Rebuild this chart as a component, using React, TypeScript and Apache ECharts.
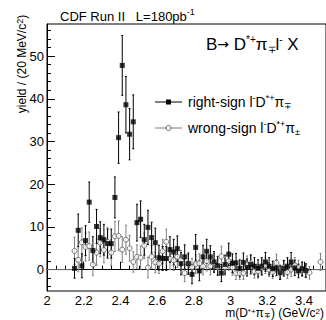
import React, { useEffect, useRef } from "react";
import * as echarts from "echarts";

const massBins = [
  2.15, 2.17, 2.19, 2.21, 2.23, 2.25, 2.27, 2.29, 2.31, 2.33,
  2.35, 2.37, 2.39, 2.41, 2.43, 2.45, 2.47, 2.49, 2.51, 2.53,
  2.55, 2.57, 2.59, 2.61, 2.63, 2.65, 2.67, 2.69, 2.71, 2.73,
  2.75, 2.77, 2.79, 2.81, 2.83, 2.85, 2.87, 2.89, 2.91, 2.93,
  2.95, 2.97, 2.99, 3.01, 3.03, 3.05, 3.07, 3.09, 3.11, 3.13,
  3.15, 3.17, 3.19, 3.21, 3.23, 3.25, 3.27, 3.29, 3.31, 3.33,
  3.35, 3.37, 3.39, 3.41, 3.43, 3.45, 3.47, 3.49,
];

const rightSign: (number | null)[] = [
  0.3, 9.2, 0.9, 6.8, 15.8, 4.5, 10.1, 7.5, 7.0, 6.1,
  6.1, 16.9, 30.9, 47.8, 38.6, 31.7, 34.6, 11.0, 11.8, 7.0,
  9.9, 7.5, 6.3, 2.8, 2.6, 2.6, 4.7, 4.1, 4.9, 1.4,
  3.0, 1.4, -1.1, 5.2, -0.3, 3.0, 4.3, 3.0, 1.8, 0.9,
  -0.8, 1.2, 3.6, 1.5, 1.6, 0.3, 1.7, 0.5, 1.2, 0.8,
  0.3, 0.8, 1.8, 0.8, 0.2, 0.4, -0.7, 0.3, 0.8, 1.8,
  0.4, -0.3, 0.2, -0.2, null, null, null, null,
];
const rightSignErr = [
  2.3, 3.8, 2.8, 3.5, 4.7, 3.2, 4.0, 3.7, 3.6, 3.4,
  3.4, 4.8, 6.0, 7.0, 6.6, 6.0, 6.3, 4.3, 4.3, 3.6,
  4.0, 3.6, 3.4, 2.9, 2.8, 2.8, 3.0, 3.0, 3.0, 2.6,
  2.8, 2.5, 2.2, 3.0, 2.3, 2.7, 2.8, 2.6, 2.4, 2.2,
  2.0, 2.2, 2.6, 2.2, 2.2, 2.0, 2.2, 2.0, 2.2, 2.0,
  2.0, 2.0, 2.2, 2.0, 1.8, 1.8, 1.6, 1.8, 2.0, 2.2,
  1.8, 1.6, 1.6, 1.6, 0, 0, 0, 0,
];

const wrongSign: (number | null)[] = [
  4.4, 2.3, 6.4, 5.3, 5.5, 1.2, 4.0, 6.3, 4.6, 6.5,
  4.0, 7.8, 7.9, 4.7, 7.0, 5.0, 1.8, 3.0, 2.8, 5.6,
  0.5, 3.0, 1.7, 1.4, 4.3, 6.5, 2.5, 2.2, 3.0, 2.2,
  -0.8, 1.4, 0.6, 1.3, 1.5, 0.8, 2.0, 0.8, 1.5, 0.6,
  3.1, 0.6, 2.0, 0.5, -0.8, -0.8, -0.8, 1.2, 1.5, -0.4,
  -0.4, 0.5, 1.0, 0.0, -0.5, 1.6, -0.5, 0.5, -0.6, 0.0,
  1.0, 0.5, 0.0, -0.3, -0.7, null, null, 1.8,
];
const wrongSignErr = [
  3.2, 2.8, 3.4, 3.3, 3.3, 2.6, 3.0, 3.3, 3.0, 3.3,
  3.0, 3.5, 3.5, 3.0, 3.4, 3.0, 2.4, 2.8, 2.7, 3.0,
  2.4, 2.7, 2.4, 2.3, 2.8, 3.0, 2.5, 2.4, 2.5, 2.3,
  2.0, 2.2, 2.0, 2.2, 2.2, 2.0, 2.3, 2.0, 2.2, 1.9,
  2.4, 1.9, 2.2, 1.8, 1.5, 1.5, 1.5, 2.0, 2.0, 1.6,
  1.6, 1.8, 1.9, 1.6, 1.6, 2.0, 1.6, 1.7, 1.5, 1.6,
  1.8, 1.7, 1.6, 1.5, 1.5, 0, 0, 2.0,
];

const xTickLabels = [2, 2.2, 2.4, 2.6, 2.8, 3, 3.2, 3.4];
const yTickLabels = [0, 10, 20, 30, 40, 50];
const baselineLeft = [2.0, 2.145];
const baselineRight = [3.44, 3.52];

const X_MIN = 2;
const X_MAX = 3.52;
const Y_MIN = -5;
const Y_MAX = 57.5;

const FONT = "Liberation Sans, Arial, Helvetica, sans-serif";

function minorTicks(min: number, max: number, step: number, majors: number[]) {
  const out: number[] = [];
  const n = Math.round((max - min) / step);
  for (let i = 0; i <= n; i++) {
    const v = Math.round((min + i * step) * 1000) / 1000;
    if (!majors.some((m) => Math.abs(m - v) < 1e-6)) out.push(v);
  }
  return out;
}

function errorSeries(vals: (number | null)[], errs: number[], color: string, z: number) {
  const data: number[][] = [];
  massBins.forEach((x, i) => {
    const v = vals[i];
    if (v != null && errs[i] > 0) data.push([x, v - errs[i], v + errs[i]]);
  });
  return {
    type: "custom",
    silent: true,
    z,
    data,
    encode: { x: 0, y: [1, 2] },
    renderItem: (_params: any, api: any) => {
      const x = api.value(0);
      const lo = api.coord([x, api.value(1)]);
      const hi = api.coord([x, api.value(2)]);
      const st = { stroke: color, lineWidth: 1 };
      return {
        type: "group",
        children: [
          { type: "line", shape: { x1: lo[0], y1: lo[1], x2: hi[0], y2: hi[1] }, style: st },
          { type: "line", shape: { x1: lo[0] - 1, y1: lo[1], x2: lo[0] + 1, y2: lo[1] }, style: st },
          { type: "line", shape: { x1: hi[0] - 1, y1: hi[1], x2: hi[0] + 1, y2: hi[1] }, style: st },
        ],
      };
    },
  };
}

function points(vals: (number | null)[]) {
  const out: number[][] = [];
  massBins.forEach((x, i) => {
    const v = vals[i];
    if (v != null) out.push([x, v]);
  });
  return out;
}

export default function App() {
  const ref = useRef<HTMLDivElement>(null);
  useEffect(() => {
    if (!ref.current) return;
    const chart = echarts.init(ref.current, undefined, { renderer: "svg" });
    const xMinor = minorTicks(X_MIN, 3.5, 0.05, xTickLabels);
    const yMinor = minorTicks(-4, 56, 2, yTickLabels);

    const sup = { fontSize: 9, verticalAlign: "top", lineHeight: 9, fontFamily: FONT, fill: "#000" };
    const sub = { fontSize: 9, verticalAlign: "bottom", lineHeight: 9, fontFamily: FONT, fill: "#000" };

    const option: any = {
      animation: false,
      backgroundColor: "#fff",
      grid: {
        left: 47,
        top: 24,
        right: -3,
        bottom: 29,
        show: true,
        borderColor: "#000",
        borderWidth: 1,
        backgroundColor: "transparent",
      },
      xAxis: [
        {
          type: "value",
          min: X_MIN,
          max: X_MAX,
          position: "bottom",
          axisLine: { show: true, lineStyle: { color: "#000", width: 1 } },
          splitLine: { show: false },
          axisTick: {
            show: true,
            inside: true,
            length: 8,
            customValues: xTickLabels,
            lineStyle: { color: "#000" },
          },
          axisLabel: {
            customValues: xTickLabels,
            margin: 3,
            color: "#000",
            fontSize: 13,
            lineHeight: 12,
            fontFamily: FONT,
            formatter: (v: number) => String(Math.round(v * 10) / 10),
          },
        },
        {
          type: "value",
          min: X_MIN,
          max: X_MAX,
          position: "bottom",
          axisLine: { show: false },
          splitLine: { show: false },
          axisLabel: { show: false },
          axisTick: {
            show: true,
            inside: true,
            length: 4,
            customValues: xMinor,
            lineStyle: { color: "#000" },
          },
        },
      ],
      yAxis: [
        {
          type: "value",
          min: Y_MIN,
          max: Y_MAX,
          position: "left",
          axisLine: { show: true, lineStyle: { color: "#000", width: 1 } },
          splitLine: { show: false },
          axisTick: {
            show: true,
            inside: true,
            length: 8,
            customValues: yTickLabels,
            lineStyle: { color: "#000" },
          },
          axisLabel: {
            customValues: yTickLabels,
            margin: 3,
            color: "#000",
            fontSize: 13,
            fontFamily: FONT,
          },
        },
        {
          type: "value",
          min: Y_MIN,
          max: Y_MAX,
          position: "left",
          offset: 0,
          axisLine: { show: false },
          splitLine: { show: false },
          axisLabel: { show: false },
          axisTick: {
            show: true,
            inside: true,
            length: 4,
            customValues: yMinor,
            lineStyle: { color: "#000" },
          },
        },
      ],
      series: [
        {
          type: "line",
          data: baselineLeft.map((x) => [x, 0]),
          symbol: "none",
          lineStyle: { color: "#777", width: 1 },
          silent: true,
          z: 1,
        },
        {
          type: "line",
          data: baselineRight.map((x) => [x, 0]),
          symbol: "none",
          lineStyle: { color: "#777", width: 1 },
          silent: true,
          z: 1,
        },
        errorSeries(wrongSign, wrongSignErr, "#808080", 2),
        errorSeries(rightSign, rightSignErr, "#000", 3),
        {
          type: "scatter",
          name: "wrong-sign",
          data: points(wrongSign),
          symbol: "circle",
          symbolSize: 5,
          itemStyle: { color: "#fff", borderColor: "#555", borderWidth: 1 },
          silent: true,
          z: 4,
        },
        {
          type: "scatter",
          name: "right-sign",
          data: points(rightSign),
          symbol: "rect",
          symbolSize: 5,
          itemStyle: { color: "#000" },
          silent: true,
          z: 5,
        },
      ],
      graphic: [
        {
          type: "text",
          x: 60,
          y: 15,
          style: {
            text: "{n|CDF Run II   L=180pb}{s|-1}",
            textVerticalAlign: "middle",
            rich: {
              n: { fontSize: 13, fontFamily: FONT, fill: "#000", lineHeight: 15, verticalAlign: "bottom" },
              s: { ...sup },
            },
          },
        },
        {
          type: "text",
          x: 206,
          y: 44,
          style: {
            text: "{n|B}{a|→}{n| D}{s|*+}{n|π}{b|∓}{n|l}{s|-}{n| X}",
            textVerticalAlign: "middle",
            rich: {
              n: { fontSize: 17, fontFamily: FONT, fill: "#000", lineHeight: 20 },
              a: { fontSize: 14, fontFamily: "DejaVu Sans, sans-serif", fill: "#000", lineHeight: 20 },
              s: { fontSize: 10, verticalAlign: "top", lineHeight: 10, fontFamily: FONT, fill: "#000" },
              b: { fontSize: 10, verticalAlign: "bottom", lineHeight: 10, fontFamily: FONT, fill: "#000" },
            },
          },
        },
        // legend
        { type: "line", shape: { x1: 155, y1: 102, x2: 182, y2: 102 }, style: { stroke: "#000", lineWidth: 1 } },
        { type: "rect", shape: { x: 166, y: 99.5, width: 5, height: 5 }, style: { fill: "#000" } },
        {
          type: "text",
          x: 188,
          y: 102,
          style: {
            text: "{n|right-sign l}{s|-}{n|D}{s|*+}{n|π}{b|∓}",
            textVerticalAlign: "middle",
            rich: {
              n: { fontSize: 14, fontFamily: FONT, fill: "#000", lineHeight: 17 },
              s: { ...sup },
              b: { ...sub },
            },
          },
        },
        { type: "line", shape: { x1: 155, y1: 128, x2: 182, y2: 128 }, style: { stroke: "#808080", lineWidth: 1 } },
        { type: "circle", shape: { cx: 168.5, cy: 128, r: 2.5 }, style: { fill: "#fff", stroke: "#555", lineWidth: 1 } },
        {
          type: "text",
          x: 188,
          y: 128,
          style: {
            text: "{n|wrong-sign l}{s|-}{n|D}{s|*+}{n|π}{b|±}",
            textVerticalAlign: "middle",
            rich: {
              n: { fontSize: 14, fontFamily: FONT, fill: "#000", lineHeight: 17 },
              s: { ...sup },
              b: { ...sub },
            },
          },
        },
        {
          type: "text",
          x: 22,
          y: 64,
          rotation: Math.PI / 2,
          style: {
            text: "{n|yield / (20 MeV/c}{s|2}{n|)}",
            textAlign: "center",
            textVerticalAlign: "middle",
            rich: {
              n: { fontSize: 12, fontFamily: FONT, fill: "#000", lineHeight: 14 },
              s: { ...sup },
            },
          },
        },
        {
          type: "text",
          x: 324,
          y: 313,
          style: {
            text: "{n|m(D}{s|*+}{n|π}{b|∓}{n|) (GeV/c}{s|2}{n|)}",
            textAlign: "right",
            textVerticalAlign: "middle",
            rich: {
              n: { fontSize: 12, fontFamily: FONT, fill: "#000", lineHeight: 12 },
              s: { fontSize: 8, verticalAlign: "top", lineHeight: 8, fontFamily: FONT, fill: "#000" },
              b: { fontSize: 8, verticalAlign: "bottom", lineHeight: 8, fontFamily: FONT, fill: "#000" },
            },
          },
        },
      ],
    };
    chart.setOption(option);
    return () => chart.dispose();
  }, []);
  return <div ref={ref} style={{ width: 326, height: 320, position: "absolute", left: 0, top: 0 }} />;
}
